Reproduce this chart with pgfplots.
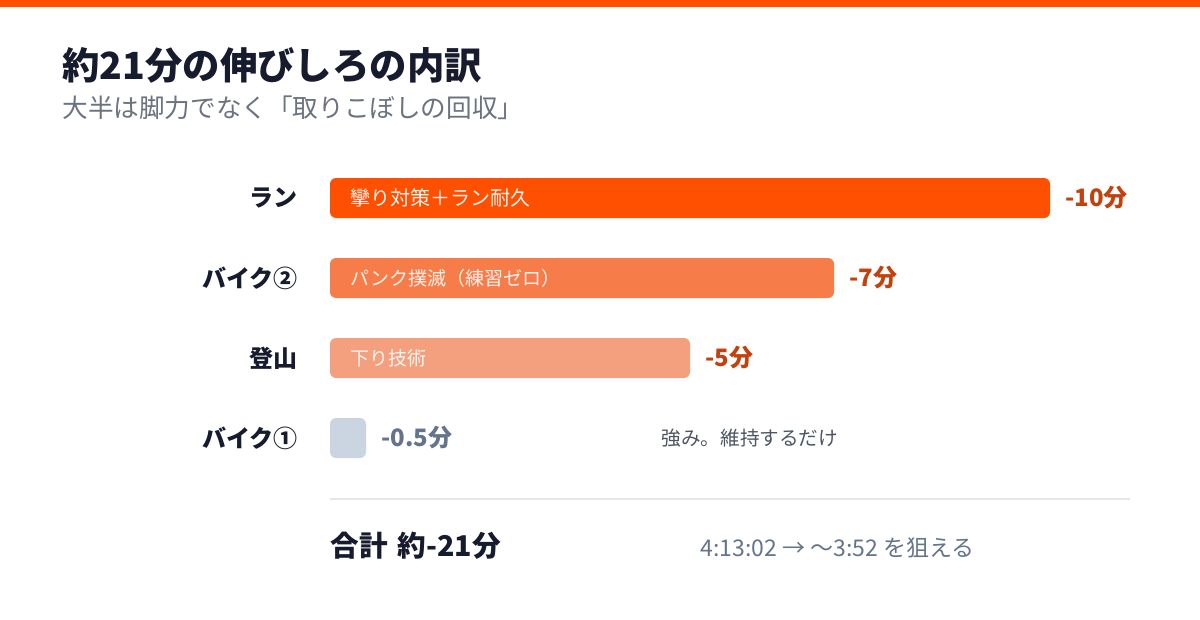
\documentclass[border=0pt]{standalone}
\usepackage{fontspec}
\setmainfont{Noto Sans CJK JP}
\usepackage{pgfplots}
\pgfplotsset{compat=1.18}
\definecolor{stripe}{HTML}{FF4F00}
\definecolor{runc}{HTML}{FF4F00}
\definecolor{bike2c}{HTML}{F67C4A}
\definecolor{climbc}{HTML}{F4A07E}
\definecolor{bike1c}{HTML}{CBD5E1}
\definecolor{valc}{HTML}{C2410C}
\definecolor{darkc}{HTML}{161B2E}
\definecolor{subc}{HTML}{6B7280}
\definecolor{greyv}{HTML}{64748B}
\definecolor{notec}{HTML}{4B5563}
\definecolor{sepc}{HTML}{E5E7EB}
\begin{document}
\begin{tikzpicture}
\fill[white] (0pt,0pt) rectangle (600pt,-310pt);
\fill[stripe] (0pt,0pt) rectangle (600pt,-3.5pt);
\node[anchor=west,inner sep=0pt,font=\bfseries\fontsize{18.7}{20}\selectfont,text=darkc] at (31pt,-32.5pt) {約21分の伸びしろの内訳};
\node[anchor=west,inner sep=0pt,font=\fontsize{12.8}{14}\selectfont,text=subc] at (31pt,-54pt) {大半は脚力でなく「取りこぼしの回収」};
\begin{axis}[
  at={(165pt,-79pt)}, anchor=north west,
  scale only axis, width=360pt, height=160pt,
  xmin=0, xmax=10, ymin=-0.5, ymax=3.5, y dir=reverse,
  axis line style={draw=none}, major tick length=0pt,
  xtick=\empty, ytick={0,1,2,3},
  yticklabels={ラン,バイク②,登山,バイク①},
  yticklabel style={font=\bfseries\fontsize{12}{14}\selectfont, text=darkc, anchor=east, inner sep=0pt, xshift=-16pt},
  clip=false,
  every node near coord/.append style={anchor=west, inner sep=0pt, xshift=7.5pt, font=\bfseries\fontsize{12}{14}\selectfont, text=valc},
]
\addplot[xbar, bar width=20pt, bar shift=0pt, fill=runc, draw=none, rounded corners=3pt, nodes near coords={-10分}] coordinates {(10,0)};
\addplot[xbar, bar width=20pt, bar shift=0pt, fill=bike2c, draw=none, rounded corners=3pt, nodes near coords={-7分}] coordinates {(7,1)};
\addplot[xbar, bar width=20pt, bar shift=0pt, fill=climbc, draw=none, rounded corners=3pt, nodes near coords={-5分}] coordinates {(5,2)};
\addplot[xbar, bar width=20pt, bar shift=0pt, fill=bike1c, draw=none, rounded corners=3pt, nodes near coords={-0.5分}, every node near coord/.append style={text=greyv}] coordinates {(0.5,3)};
\node[anchor=west,inner sep=0pt,xshift=10pt,font=\fontsize{10}{12}\selectfont,text=white,opacity=0.95] at (axis cs:0,0) {攣り対策＋ラン耐久};
\node[anchor=west,inner sep=0pt,xshift=10pt,font=\fontsize{9.5}{12}\selectfont,text=white,opacity=0.9] at (axis cs:0,1) {パンク撲滅（練習ゼロ）};
\node[anchor=west,inner sep=0pt,xshift=10pt,font=\fontsize{9.5}{12}\selectfont,text=white,opacity=0.9] at (axis cs:0,2) {下り技術};
\node[anchor=west,inner sep=0pt,font=\fontsize{9.8}{12}\selectfont,text=notec] at (axis cs:4.6,3) {強み。維持するだけ};
\end{axis}
\draw[sepc, line width=1pt] (165pt,-249.5pt) -- (565pt,-249.5pt);
\node[anchor=west,inner sep=0pt,font=\bfseries\fontsize{14.3}{16}\selectfont,text=darkc] at (165pt,-273pt) {合計\hspace{0.35em}約-21分};
\node[anchor=west,inner sep=0pt,font=\fontsize{11.5}{13}\selectfont,text=greyv] at (350pt,-274pt) {4:13:02 → 〜3:52 を狙える};
\end{tikzpicture}
\end{document}
